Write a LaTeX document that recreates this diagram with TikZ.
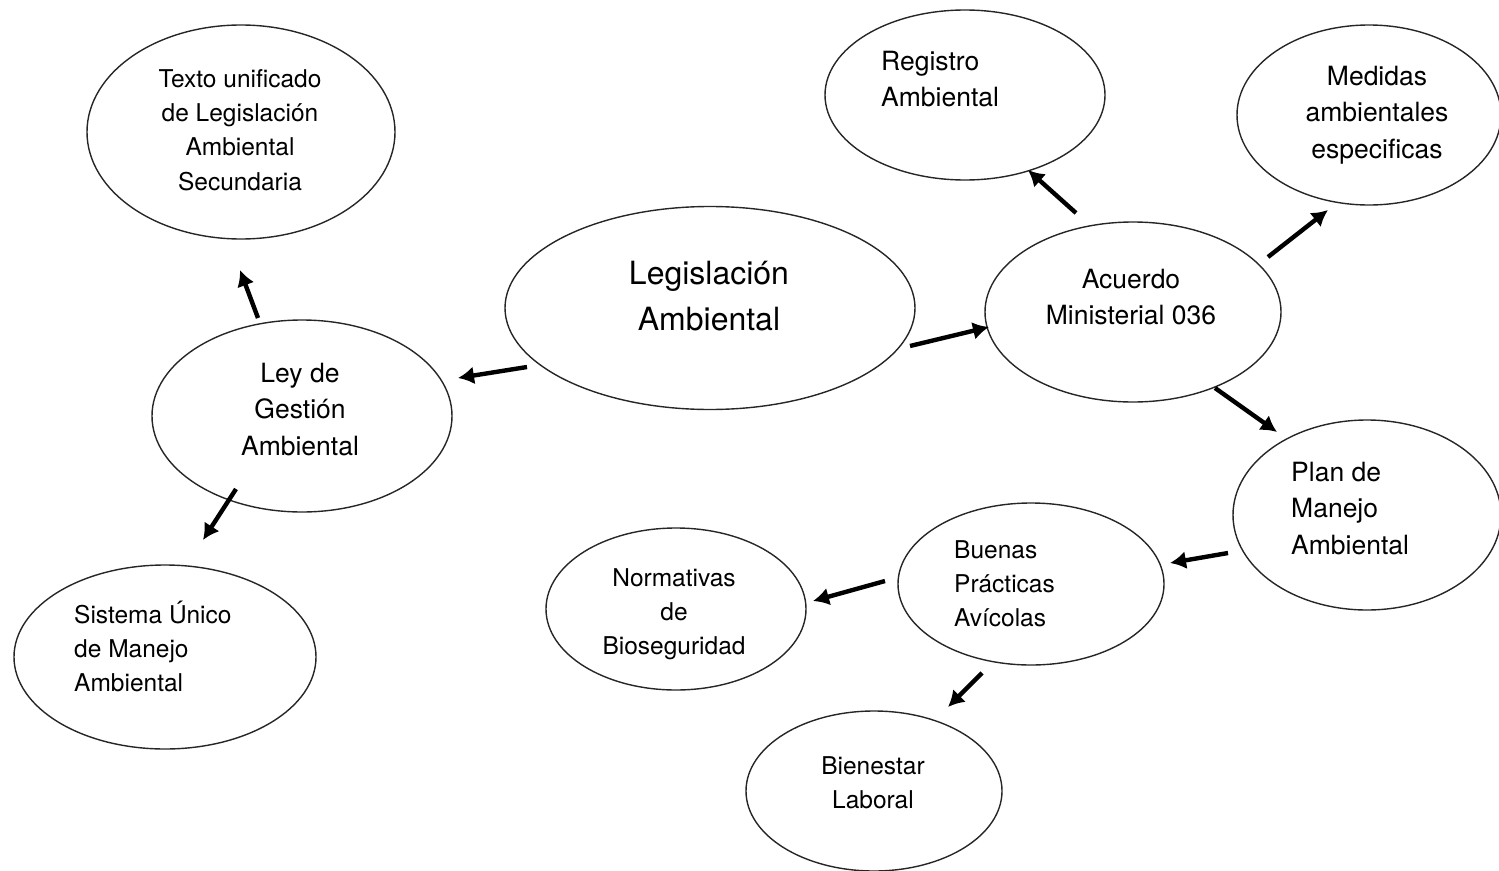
\documentclass[tikz,border=0pt]{standalone}
\usepackage{fontspec}
\setmainfont{TeX Gyre Heros}
\usetikzlibrary{shapes.geometric,arrows.meta}

\begin{document}
\begin{tikzpicture}[x=1pt,y=-1pt,
  oval/.style={draw=black!85,line width=1.4pt,ellipse,inner sep=0pt},
  arr/.style={line width=4.4pt,black,-{Latex[length=16pt,width=18pt]}},
  txtA/.style={inner sep=0pt,font=\fontsize{26.5}{36.5}\selectfont},
  txtB/.style={inner sep=0pt,font=\fontsize{24.5}{34.3}\selectfont},
  txtC/.style={inner sep=0pt,font=\fontsize{32}{46}\selectfont},
]
\useasboundingbox (0,0) rectangle (1499,870);

% a tall invisible rule on the first line fixes the top of each text block
\newcommand{\topline}{\rule{0pt}{30pt}}

% ellipses
\node[oval,minimum width=308pt,minimum height=214pt] (texto)   at (241,132) {};
\node[oval,minimum width=300pt,minimum height=192pt] (ley)     at (302,416) {};
\node[oval,minimum width=302pt,minimum height=184pt] (sistema) at (165,657) {};
\node[oval,minimum width=410pt,minimum height=203pt] (legis)   at (710,308) {};
\node[oval,minimum width=296pt,minimum height=180pt] (acuerdo) at (1133,312) {};
\node[oval,minimum width=280pt,minimum height=170pt] (registro) at (965,95) {};
\node[oval,minimum width=264pt,minimum height=180pt] (medidas) at (1369,115) {};
\node[oval,minimum width=268pt,minimum height=190pt] (plan)    at (1367,515) {};
\node[oval,minimum width=266pt,minimum height=162pt] (buenas)  at (1031,584) {};
\node[oval,minimum width=260pt,minimum height=162pt] (normas)  at (676,609) {};
\node[oval,minimum width=256pt,minimum height=160pt] (bienestar) at (874,791) {};

% labels (each placed 30pt above the first baseline)
\node[txtB,anchor=north,align=center] (texto-t) at (240,57)
  {\topline Texto unificado\\de Legislación\\Ambiental\\Secundaria};
\node[txtC,anchor=north,align=center] (legis-t) at (709,254)
  {\topline Legislación\\Ambiental};
\node[txtA,anchor=north,align=center] (acuerdo-t) at (1131,258)
  {\topline Acuerdo\\Ministerial 036};
\node[txtA,anchor=north west,align=left] (registro-t) at (881,40)
  {\topline Registro\\Ambiental};
\node[txtA,anchor=north,align=center] (medidas-t) at (1377,55)
  {\topline Medidas\\ambientales\\especificas};
\node[txtA,anchor=north,align=center] (ley-t) at (300,352)
  {\topline Ley de\\Gestión\\Ambiental};
\node[txtB,anchor=north west,align=left] (sistema-t) at (74,593)
  {\topline Sistema Único\\de Manejo\\Ambiental};
\node[txtA,anchor=north west,align=left] (plan-t) at (1291,451)
  {\topline Plan de\\Manejo\\Ambiental};
\node[txtB,anchor=north west,align=left] (buenas-t) at (954,528)
  {\topline Buenas\\Prácticas\\Avícolas};
\node[txtB,anchor=north,align=center] (normas-t) at (674,556)
  {\topline Normativas\\de\\Bioseguridad};
\node[txtB,anchor=north,align=center] (bienestar-t) at (873,744)
  {\topline Bienestar\\Laboral};

% arrow ends
\coordinate (ley-a)      at (258,318);  \coordinate (texto-a)    at (240,270);
\coordinate (legis-a)    at (527,367);  \coordinate (ley-b)      at (458,378);
\coordinate (ley-c)      at (236,489);  \coordinate (sistema-a)  at (203,540);
\coordinate (legis-b)    at (910,346);  \coordinate (acuerdo-a)  at (989,327);
\coordinate (acuerdo-b)  at (1076,213); \coordinate (registro-a) at (1028,170);
\coordinate (acuerdo-c)  at (1268,257); \coordinate (medidas-a)  at (1328,210);
\coordinate (acuerdo-d)  at (1215,388); \coordinate (plan-a)     at (1277,432);
\coordinate (plan-b)     at (1228,553); \coordinate (buenas-a)   at (1170,563);
\coordinate (buenas-b)   at (885,581);  \coordinate (normas-a)   at (813,601);
\coordinate (buenas-c)   at (982,673);  \coordinate (bienestar-a) at (948,707);

% connectors
\draw[arr] (ley-a) -- (texto-a);
\draw[arr] (legis-a) -- (ley-b);
\draw[arr] (ley-c) -- (sistema-a);
\draw[arr] (legis-b) -- (acuerdo-a);
\draw[arr] (acuerdo-b) -- (registro-a);
\draw[arr] (acuerdo-c) -- (medidas-a);
\draw[arr] (acuerdo-d) -- (plan-a);
\draw[arr] (plan-b) -- (buenas-a);
\draw[arr] (buenas-b) -- (normas-a);
\draw[arr] (buenas-c) -- (bienestar-a);
\end{tikzpicture}
\end{document}
